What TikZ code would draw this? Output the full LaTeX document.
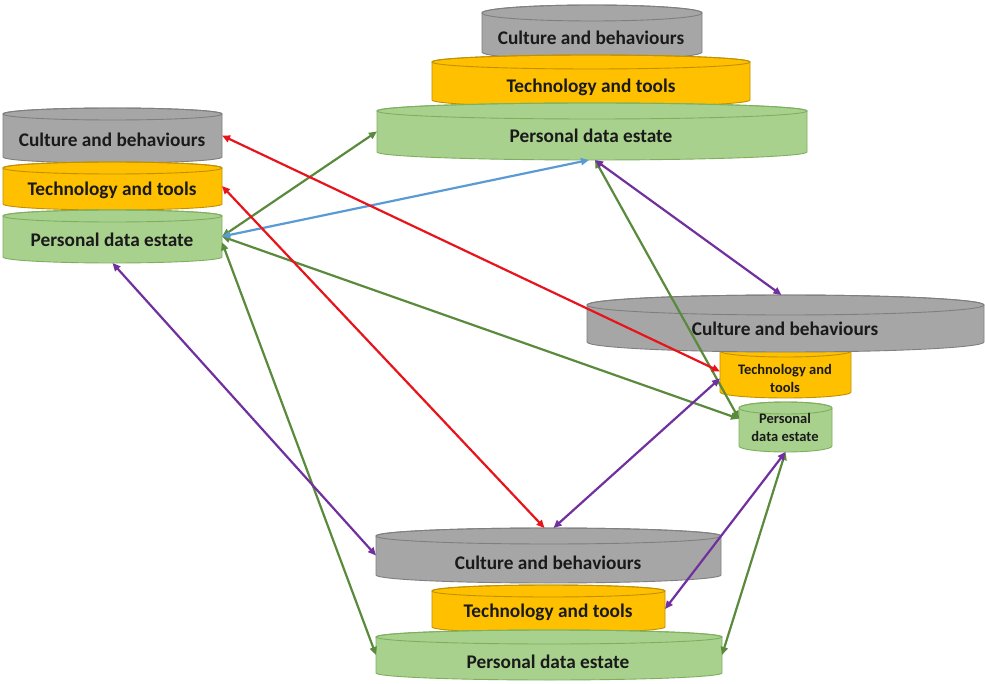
\documentclass[tikz,border=0pt]{standalone}
\usepackage{fontspec}
\setmainfont{Carlito}
\usetikzlibrary{arrows.meta}
\definecolor{cgray}{HTML}{A6A6A6}
\definecolor{cgrayd}{HTML}{7F7F7F}
\definecolor{cyel}{HTML}{FFC000}
\definecolor{cyeld}{HTML}{C09000}
\definecolor{cgrn}{HTML}{A9D18E}
\definecolor{cgrnd}{HTML}{7DAF5E}
\definecolor{ared}{HTML}{E8141B}
\definecolor{agrn}{HTML}{5A8A3C}
\definecolor{ablu}{HTML}{5B9BD5}
\definecolor{apur}{HTML}{7030A0}
\definecolor{txt}{HTML}{1A1A1A}
\newcommand{\mycyl}[8]{% name x1 x2 ytop ybot ry fill draw
  \pgfmathsetmacro{\cxm}{(#2+#3)/2}
  \pgfmathsetmacro{\crx}{(#3-#2)/2}
  \pgfmathsetmacro{\cyc}{#4+#6}
  \pgfmathsetmacro{\cyb}{#5-#6}
  \pgfmathsetmacro{\cym}{(#4+#5)/2}
  \pgfmathsetmacro{\cw}{#3-#2}
  \pgfmathsetmacro{\ch}{#5-#4}
  \filldraw[fill=#7, draw=#8, line width=0.9pt] (#2,\cyc) -- (#2,\cyb)
    arc[start angle=180, end angle=360, x radius=\crx pt, y radius=#6 pt]
    -- (#3,\cyc)
    arc[start angle=0, end angle=180, x radius=\crx pt, y radius=#6 pt] -- cycle;
  \draw[draw=#8, line width=0.9pt] (\cxm,\cyc) ellipse [x radius=\crx pt, y radius=#6 pt];
  \node[cylbox, minimum width=\cw pt, minimum height=\ch pt] (#1) at (\cxm,\cym) {};
}
\begin{document}
\begin{tikzpicture}[x=1pt,y=-1pt,
  cylbox/.style={rectangle, draw=none, inner sep=0pt, outer sep=0pt},
  lbl/.style={font=\fontsize{19.3}{22}\selectfont\bfseries, text=txt, inner sep=0pt},
  slbl/.style={font=\fontsize{14.5}{18}\selectfont\bfseries, text=txt, inner sep=0pt, align=center},
  conn/.style={line width=2.2pt, {Triangle[length=8pt,width=7pt]}-{Triangle[length=8pt,width=7pt]}}
]
\fill[white] (0,0) rectangle (985,684);
\useasboundingbox (0,0) rectangle (985,684);

% left stack
\mycyl{LC}{3}{222}{108}{163}{6}{cgray}{cgrayd}
\mycyl{LY}{3}{222}{162}{210}{6}{cyel}{cyeld}
\mycyl{LG}{3}{222}{210}{263}{6}{cgrn}{cgrnd}
\node[lbl] (LCt) at (112,140) {Culture and behaviours};
\node[lbl] (LYt) at (112,190) {Technology and tools};
\node[lbl] (LGt) at (112,240) {Personal data estate};

% top stack
\mycyl{TC}{482}{702}{5}{60}{8}{cgray}{cgrayd}
\mycyl{TY}{432}{750}{55}{107}{7}{cyel}{cyeld}
\mycyl{TG}{377}{807}{103}{160}{8}{cgrn}{cgrnd}
\node[lbl] (TCt) at (591,38) {Culture and behaviours};
\node[lbl] (TYt) at (591,87) {Technology and tools};
\node[lbl] (TGt) at (591,136) {Personal data estate};

% right stack
\mycyl{RY}{720}{851}{345}{398}{6}{cyel}{cyeld}
\mycyl{RG}{739}{832}{402}{452}{6}{cgrn}{cgrnd}
\mycyl{RC}{587}{984}{295}{352}{10}{cgray}{cgrayd}
\node[lbl] (RCt) at (785,329) {Culture and behaviours};
\node[slbl] (RYt) at (785,378) {Technology and\\tools};
\node[slbl] (RGt) at (785,427) {Personal\\data estate};

% bottom stack
\mycyl{BC}{376}{721}{528}{583}{8}{cgray}{cgrayd}
\mycyl{BY}{432}{665}{585}{633}{6}{cyel}{cyeld}
\mycyl{BG}{376}{722}{630}{680}{7}{cgrn}{cgrnd}
\node[lbl] (BCt) at (548,563) {Culture and behaviours};
\node[lbl] (BYt) at (548,612) {Technology and tools};
\node[lbl] (BGt) at (548,662) {Personal data estate};

% connectors
\draw[conn, agrn] (LG.east) -- (TG.west);
\draw[conn, agrn] (LG.east) -- (RG.170);
\draw[conn, agrn] (LG.-3) -- (BG.west);
\draw[conn, agrn] ([xshift=3pt]TG.south) -- (RG.170);
\draw[conn, agrn] (RG.south) -- (BG.east);
\draw[conn, ablu] (LG.east) -- ([xshift=-3pt]TG.south);
\draw[conn, apur] (LG.south) -- (BC.west);
\draw[conn, apur] ([xshift=3pt]TG.south) -- ([xshift=-4pt]RC.north);
\draw[conn, apur] (RY.186) -- ([xshift=5pt]BC.north);
\draw[conn, apur] (RG.south) -- (BY.east);
\draw[conn, ared] (LC.east) -- (RY.west);
\draw[conn, ared] (LY.east) -- ([xshift=-4pt]BC.north);
\end{tikzpicture}
\end{document}
